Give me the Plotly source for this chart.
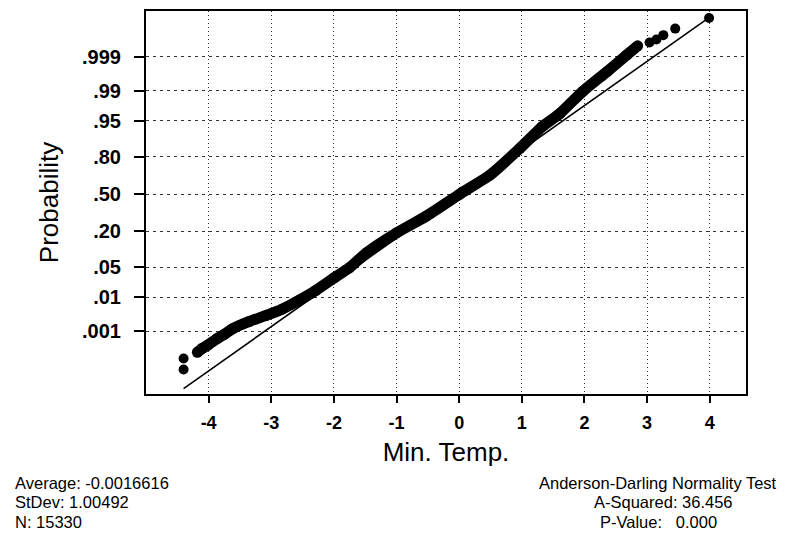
from statistics import NormalDist
import plotly.graph_objects as go

# ---- data (x value, cumulative probability) ----
tail_low_x = [-4.40, -4.40]
tail_low_p = [0.0000394, 0.000107]

band_x = [-4.18, -4.10, -4.02, -3.87, -3.75, -3.62, -3.35, -3.08, -2.82, -2.55,
          -2.28, -1.99, -1.75, -1.48, -1.00, -0.52, 0.01, 0.49, 0.97, 1.33,
          1.61, 1.97, 2.36, 2.68, 2.85]
band_p = [0.000185, 0.000259, 0.000332, 0.000561, 0.000797, 0.00121, 0.00208, 0.00315,
          0.00486, 0.00854, 0.01535, 0.0300, 0.0488, 0.0932, 0.1913, 0.311, 0.500,
          0.6647, 0.8485, 0.9361, 0.9652, 0.98945, 0.99706, 0.99914, 0.999575]

tail_high_x = [3.04, 3.15, 3.26, 3.45, 3.99]
tail_high_p = [0.999675, 0.999747, 0.999826, 0.999902, 0.999963]

tick_probs = [0.001, 0.01, 0.05, 0.20, 0.50, 0.80, 0.95, 0.99, 0.999]
tick_labels = [".001", ".01", ".05", ".20", ".50", ".80", ".95", ".99", ".999"]
x_ticks = [-4, -3, -2, -1, 0, 1, 2, 3, 4]

average = -0.0016616
stdev = 1.00492
n_obs = 15330
a_squared = 36.456
p_value = 0.000

nd = NormalDist()
zf = lambda ps: [nd.inv_cdf(p) for p in ps]

all_x = tail_low_x + band_x + tail_high_x
fit_x = [min(all_x), max(all_x)]
fit_z = [(v - average) / stdev for v in fit_x]

FONT = "Liberation Sans, Arial, Helvetica, sans-serif"

fig = go.Figure()
# fitted line
fig.add_trace(go.Scatter(x=fit_x, y=fit_z, mode="lines",
                         line=dict(color="black", width=1.6), hoverinfo="skip"))
# dense band of observations
fig.add_trace(go.Scatter(x=band_x, y=zf(band_p), mode="lines+markers",
                         line=dict(color="black", width=11, shape="spline", smoothing=0.5),
                         marker=dict(color="black", size=11)))
# isolated tail observations
fig.add_trace(go.Scatter(x=tail_low_x + tail_high_x, y=zf(tail_low_p + tail_high_p),
                         mode="markers", marker=dict(color="black", size=10)))

fig.update_layout(
    width=787, height=539,
    margin=dict(l=146, r=41, t=9, b=145),
    paper_bgcolor="white", plot_bgcolor="white",
    showlegend=False,
    font=dict(family=FONT, color="black"),
)

fig.update_xaxes(
    range=[-5.0, 4.58], tickvals=x_ticks, ticktext=[str(v) for v in x_ticks],
    tickfont=dict(size=18, family=FONT, weight="bold"),
    ticks="outside", ticklen=7, tickwidth=2, tickcolor="black",
    showline=True, mirror=True, linecolor="black", linewidth=2,
    showgrid=True, gridcolor="#333", gridwidth=1, griddash="1px,3px",
    zeroline=False,
    ticklabelstandoff=4,
    title=dict(text="Min. Temp.", font=dict(size=26, family=FONT), standoff=11),
)
fig.update_yaxes(
    range=[-4.50, 4.12], tickvals=zf(tick_probs), ticktext=tick_labels,
    tickfont=dict(size=20, family=FONT, weight="bold"),
    ticks="outside", ticklen=10, tickwidth=2, tickcolor="black",
    showline=True, mirror=True, linecolor="black", linewidth=2,
    showgrid=True, gridcolor="#333", gridwidth=1, griddash="3px,4px",
    zeroline=False,
    ticklabelstandoff=9,
    title=dict(text="Probability", font=dict(size=26, family=FONT), standoff=16),
)

def px_x(px):
    return (px - 146) / 600.0

def px_y(py):
    return (394 - py) / 385.0

ann_font = dict(size=16.5, family=FONT, color="black")
left_lines = [f"Average: {average}", f"StDev: {stdev}", f"N: {n_obs}"]
for txt, py in zip(left_lines, [483, 503, 523]):
    fig.add_annotation(text=txt, x=px_x(12.7), y=px_y(py), xref="paper", yref="paper",
                       xanchor="left", yanchor="middle", showarrow=False, font=ann_font)

right_lines = ["Anderson-Darling Normality Test",
               f"A-Squared: {a_squared:.3f}",
               f"P-Value:\u00a0\u00a0\u00a0{p_value:.3f}"]
for txt, cx, py in zip(right_lines, [658, 663, 658], [483, 503, 523]):
    fig.add_annotation(text=txt, x=px_x(cx), y=px_y(py), xref="paper", yref="paper",
                       xanchor="center", yanchor="middle", showarrow=False, font=ann_font)

fig.write_html("out.html")
